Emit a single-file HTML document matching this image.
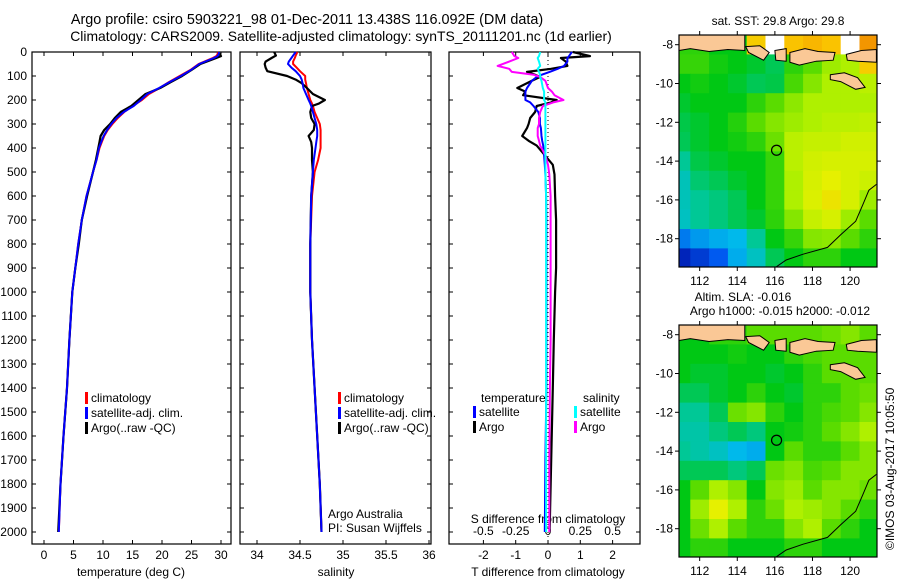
<!DOCTYPE html>
<html><head><meta charset="utf-8"><style>
body{margin:0;background:#fff}
svg{display:block;font-family:"Liberation Sans",sans-serif}
text{font-size:12px;fill:#000}
</style></head><body>
<svg id="c" width="900" height="580" viewBox="0 0 900 580">
<text x="307" y="24" text-anchor="middle" style="font-size:14.4px">Argo profile: csiro 5903221_98 01-Dec-2011 13.438S 116.092E (DM data)</text>
<text x="341" y="41" text-anchor="middle" style="font-size:13.9px">Climatology: CARS2009. Satellite-adjusted climatology: synTS_20111201.nc (1d earlier)</text>
<text x="778" y="25" text-anchor="middle">sat. SST: 29.8 Argo: 29.8</text>
<text x="743" y="301" text-anchor="middle">Altim. SLA: -0.016</text>
<text x="780" y="315" text-anchor="middle">Argo h1000: -0.015 h2000: -0.012</text>
<text transform="translate(894,550) rotate(-90)">©IMOS 03-Aug-2017 10:05:50</text>
<g id="g"></g>
</svg>
<script>
// ---- depth profiles data ----
const tDepth=[0,10,17,25,50,75,100,125,150,175,200,225,250,275,300,325,350,375,400,450,500,600,700,800,900,1000,1200,1400,1600,1800,2000];
const tArgo=[29.6,29.8,30.0,29.2,26.5,25.0,23.4,21.5,19.7,17.2,16.0,14.8,13.0,12.0,11.2,10.2,9.6,9.4,9.2,8.8,8.3,7.3,6.4,5.9,5.3,4.8,4.3,3.9,3.3,2.8,2.4];
const tClim=[29.5,29.4,29.2,28.6,26.2,24.8,23.0,21.2,19.6,17.8,16.6,15.0,13.6,12.5,11.6,10.8,10.2,9.8,9.4,8.9,8.3,7.2,6.4,5.8,5.3,4.8,4.3,3.9,3.3,2.8,2.5];
const tSat=[29.7,29.6,29.4,28.8,26.3,24.9,23.2,21.3,19.5,17.5,16.4,15.2,13.5,12.3,11.4,10.7,10.1,9.7,9.3,8.9,8.3,7.2,6.4,5.8,5.3,4.8,4.3,3.9,3.3,2.8,2.5];
const sDepth=[0,15,25,40,50,65,80,100,115,130,150,175,200,215,225,250,275,300,325,350,375,400,450,500,600,800,1000,1200,1400,1600,1800,2000];
const sArgo=[34.2,34.22,34.17,34.1,34.09,34.1,34.12,34.35,34.45,34.52,34.58,34.65,34.79,34.72,34.64,34.62,34.63,34.67,34.66,34.6,34.63,34.64,34.64,34.65,34.63,34.62,34.62,34.64,34.67,34.7,34.73,34.75];
const sClim=[34.47,34.45,34.44,34.42,34.42,34.46,34.5,34.56,34.56,34.57,34.58,34.6,34.62,34.64,34.65,34.67,34.7,34.73,34.74,34.74,34.74,34.74,34.71,34.67,34.64,34.62,34.62,34.64,34.67,34.7,34.73,34.75];
const sSat=[34.45,34.42,34.4,34.37,34.36,34.4,34.45,34.5,34.52,34.53,34.54,34.57,34.6,34.62,34.63,34.65,34.67,34.69,34.7,34.7,34.69,34.68,34.66,34.65,34.63,34.62,34.62,34.64,34.67,34.7,34.73,34.75];
const dDepth=[0,17,25,40,58,70,83,95,104,120,150,165,180,200,210,225,250,275,300,317,350,370,390,430,470,510,600,700,800,900,1000,1200,1400,1700,2000];
const dTArgo=[0.77,1.3,0.4,0.55,0.6,0.1,-0.65,-0.4,-0.25,-0.5,-0.95,-0.7,-0.77,0.27,0.1,-0.35,-0.4,-0.55,-0.6,-0.65,-0.8,-0.6,-0.35,-0.1,0.15,0.2,0.22,0.25,0.25,0.25,0.22,0.18,0.15,0.1,0.05];
const dTSat=[0.74,0.65,0.6,0.6,0.5,0.3,0.05,-0.2,-0.35,-0.5,-0.65,-0.7,-0.7,-0.7,-0.55,-0.45,-0.3,-0.25,-0.25,-0.22,-0.2,-0.18,-0.15,-0.12,-0.1,-0.08,-0.06,-0.05,-0.05,-0.05,-0.05,-0.05,-0.05,-0.08,-0.1];
const dSArgo=[-0.28,-0.26,-0.23,-0.3,-0.39,-0.3,-0.28,-0.11,-0.06,-0.02,0,0.03,0.05,0.12,0.04,-0.04,-0.06,-0.07,-0.07,-0.08,-0.08,-0.07,-0.06,-0.02,0,0.01,0.02,0.02,0.02,0.02,0.02,0.02,0.015,0.01,0.01];
const dSSat=[-0.06,-0.07,-0.08,-0.07,-0.06,-0.08,-0.07,-0.06,-0.06,-0.05,-0.04,-0.03,-0.03,-0.03,-0.02,-0.02,-0.02,-0.02,-0.02,-0.02,-0.02,-0.02,-0.02,-0.02,-0.02,-0.02,-0.015,-0.015,-0.015,-0.015,-0.015,-0.015,-0.015,-0.015,-0.015];
const depthTicks=[0,100,200,300,400,500,600,700,800,900,1000,1100,1200,1300,1400,1500,1600,1700,1800,1900,2000];
const tTicks=[0,5,10,15,20,25,30];
const sTicks=[34,34.5,35,35.5,36];
const dTTicks=[-2,-1,0,1,2];
const dSTicks=[-0.5,-0.25,0,0.25,0.5];
// ---- map data (rows lat -8..-19, cols lon 111..121), null = white ----
const mapLons=[111,112,113,114,115,116,117,118,119,120,121];
const mapLats=[-8,-9,-10,-11,-12,-13,-14,-15,-16,-17,-18,-19];
const sst=[
[0.55,0.55,0.5,0.5,0.88,null,0.9,0.92,0.9,null,0.97],
[0.56,0.56,0.52,0.5,0.48,0.45,0.55,0.6,0.68,0.7,0.88],
[0.5,0.52,0.5,0.48,0.45,0.46,0.58,0.65,0.7,0.7,0.72],
[0.48,0.5,0.5,0.5,0.55,0.6,0.66,0.7,0.7,0.7,0.7],
[0.46,0.48,0.5,0.54,0.6,0.65,0.68,0.7,0.72,0.72,0.73],
[0.45,0.48,0.5,0.52,0.55,0.62,0.72,0.74,0.74,0.76,0.76],
[0.4,0.46,0.48,0.5,0.5,0.56,0.72,0.76,0.77,0.77,0.77],
[0.36,0.43,0.45,0.48,0.5,0.56,0.7,0.77,0.8,0.77,0.75],
[0.36,0.4,0.42,0.45,0.5,0.56,0.7,0.78,0.83,0.77,0.68],
[0.35,0.4,0.42,0.45,0.48,0.55,0.65,0.74,0.77,0.68,0.6],
[0.2,0.25,0.28,0.3,0.4,0.5,0.56,0.65,0.66,0.6,0.55],
[0.06,0.1,0.15,0.28,0.35,0.45,0.5,0.55,0.55,0.5,0.5]];
const sla=[
[0.5,0.5,0.55,0.55,0.6,0.6,0.6,0.6,0.62,0.65,0.6],
[0.5,0.5,0.5,0.52,0.5,0.5,0.55,0.58,0.6,0.6,0.6],
[0.5,0.48,0.48,0.5,0.5,0.48,0.5,0.55,0.6,0.6,0.6],
[0.45,0.45,0.48,0.5,0.55,0.5,0.48,0.55,0.55,0.6,0.62],
[0.4,0.4,0.45,0.62,0.65,0.55,0.5,0.55,0.58,0.6,0.65],
[0.38,0.38,0.42,0.45,0.42,0.5,0.52,0.55,0.6,0.65,0.7],
[0.4,0.38,0.35,0.3,0.28,0.5,0.6,0.55,0.55,0.6,0.65],
[0.45,0.45,0.45,0.42,0.45,0.62,0.65,0.58,0.6,0.65,0.65],
[0.5,0.6,0.7,0.65,0.5,0.65,0.68,0.6,0.65,0.65,0.62],
[0.5,0.68,0.8,0.7,0.55,0.62,0.7,0.68,0.65,0.6,0.55],
[0.5,0.62,0.7,0.6,0.55,0.55,0.65,0.7,0.6,0.55,0.5],
[0.5,0.55,0.55,0.5,0.5,0.5,0.55,0.55,0.5,0.5,0.5]];
const lonTicks=[112,114,116,118,120];
const latTicks=[-8,-10,-12,-14,-16,-18];
const argoPos=[116.09,-13.44];
const coastAus=[[116.0,-19.5],[116.6,-19.1],[117.5,-18.8],[118.8,-18.45],[119.5,-17.8],[120.3,-17.1],[120.7,-16.2],[121.0,-15.5],[121.4,-15.2]];
const islands=[
[[110.9,-7.5],[114.4,-7.5],[114.4,-8.3],[113.5,-8.25],[112.5,-8.35],[111.5,-8.2],[110.9,-8.3]],
[[114.45,-8.1],[115.2,-8.05],[115.7,-8.4],[115.4,-8.8],[114.6,-8.4]],
[[116.0,-8.3],[116.6,-8.2],[116.6,-8.85],[116.05,-8.8]],
[[116.8,-8.4],[117.6,-8.2],[118.3,-8.35],[119.2,-8.4],[119.1,-8.8],[118.2,-8.85],[117.3,-9.05],[116.8,-8.9]],
[[119.8,-8.5],[120.6,-8.3],[121.4,-8.25],[121.4,-8.9],[120.4,-8.85],[119.85,-8.8]],
[[118.95,-9.55],[119.7,-9.45],[120.4,-9.7],[120.8,-10.2],[120.3,-10.3],[119.5,-9.9],[118.95,-9.8]]];

const NS='http://www.w3.org/2000/svg';
const G=document.getElementById('g');
function mk(tag,attrs,parent){const e=document.createElementNS(NS,tag);for(const k in attrs)e.setAttribute(k,attrs[k]);(parent||G).appendChild(e);return e;}
function txt(x,y,s,anchor,parent){const e=mk('text',{x:x,y:y,'text-anchor':anchor||'start'},parent);e.textContent=s;return e;}
const Y0=52,Y1=544;
const yD=d=>Y0+d*0.24;
function panel(x0,x1,xs,ticks,name){
  const g=mk('g',{});
  
  
  mk('rect',{x:x0,y:Y0,width:x1-x0,height:Y1-Y0,fill:'none',stroke:'#000','stroke-width':1.2},g);
  depthTicks.forEach(d=>{mk('line',{x1:x0,x2:x0+4,y1:yD(d),y2:yD(d),stroke:'#000'},g);mk('line',{x1:x1-4,x2:x1,y1:yD(d),y2:yD(d),stroke:'#000'},g);});
  ticks.forEach(v=>{const x=xs(v);mk('line',{x1:x,x2:x,y1:Y1,y2:Y1-4,stroke:'#000'},g);mk('line',{x1:x,x2:x,y1:Y0,y2:Y0+4,stroke:'#000'},g);});
  return g;
}
function line(xs,vals,depths,color,g,w,name){
  const p=mk('polyline',{points:vals.map((v,i)=>xs(v).toFixed(1)+','+yD(depths[i]).toFixed(1)).join(' '),fill:'none',stroke:color,'stroke-width':w||2,'stroke-linejoin':'round'},g);
  
  
}
function legend(x,y,color,label,g){
  mk('rect',{x:x,y:y-10,width:3,height:12,fill:color},g);
  const t=txt(x+6,y,label,'start',g);
  
  
}
// Panel 1 temperature
const xT=v=>44+v*5.9;
const p1=panel(32,231,xT,tTicks,'temperature-panel');
depthTicks.forEach(d=>txt(27,yD(d)+4,String(d),'end',p1));
tTicks.forEach(v=>txt(xT(v),559,String(v),'middle',p1));
txt(131,576,'temperature (deg C)','middle',p1);
line(xT,tClim,tDepth,'#f00',p1,2,'temp-climatology-line');
line(xT,tArgo,tDepth,'#000',p1,2.2,'temp-argo-line');
line(xT,tSat,tDepth,'#00f',p1,2,'temp-satellite-line');
legend(85,402,'#f00','climatology',p1);legend(85,417,'#00f','satellite-adj. clim.',p1);legend(85,432,'#000','Argo(..raw -QC)',p1);
// Panel 2 salinity
const xS=v=>257+(v-34)*86;
const p2=panel(240,431,xS,sTicks,'salinity-panel');
sTicks.forEach(v=>txt(xS(v),559,String(v),'middle',p2));
txt(336,576,'salinity','middle',p2);
line(xS,sClim,sDepth,'#f00',p2,2,'sal-climatology-line');
line(xS,sArgo,sDepth,'#000',p2,2.2,'sal-argo-line');
line(xS,sSat,sDepth,'#00f',p2,2,'sal-satellite-line');
legend(338,402,'#f00','climatology',p2);legend(338,417,'#00f','satellite-adj. clim.',p2);legend(338,432,'#000','Argo(..raw -QC)',p2);
txt(328,518,'Argo Australia','start',p2);txt(328,532,'PI: Susan Wijffels','start',p2);
// Panel 3 differences
const xDT=v=>548+v*32.3;
const xDS=v=>548+v*129.2;
const p3=panel(449,640,xDT,dTTicks,'difference-panel');
mk('line',{x1:548,x2:548,y1:Y0,y2:Y1,stroke:'#000','stroke-dasharray':'1,3'},p3);
dTTicks.forEach(v=>txt(xDT(v),559,String(v),'middle',p3));
txt(548,576,'T difference from climatology','middle',p3);
dSTicks.forEach(v=>txt(xDS(v),535,String(v),'middle',p3));
txt(548,523,'S difference from climatology','middle',p3);
line(xDT,dTArgo,dDepth,'#000',p3,2.2,'tdiff-argo-line');
line(xDT,dTSat,dDepth,'#00f',p3,2,'tdiff-satellite-line');
line(xDS,dSArgo,dDepth,'#f0f',p3,2,'sdiff-argo-line');
line(xDS,dSSat,dDepth,'#0ff',p3,2,'sdiff-satellite-line');
txt(481,402,'temperature','start',p3);txt(583,402,'salinity','start',p3);
legend(473,416,'#00f','satellite',p3);legend(473,431,'#000','Argo',p3);
legend(574,416,'#0ff','satellite',p3);legend(574,431,'#f0f','Argo',p3);
// colormap
const stops=[[0,[0,0,150]],[0.15,[0,90,240]],[0.3,[0,185,235]],[0.4,[0,200,150]],[0.5,[0,200,20]],[0.6,[90,220,0]],[0.7,[175,240,0]],[0.8,[230,240,0]],[0.9,[250,195,0]],[1,[240,130,0]]];
function cmap(v){if(v===null)return '#fff';for(let i=1;i<stops.length;i++){if(v<=stops[i][0]){const a=stops[i-1],b=stops[i],t=(v-a[0])/(b[0]-a[0]);const c=a[1].map((x,k)=>Math.round(x+(b[1][k]-x)*t));return 'rgb('+c.join(',')+')';}}return 'rgb(240,130,0)';}
function mapPanel(top,vals,name){
  const L=679,R=877,B=top+232;
  const xl=lon=>L+(lon-110.9)*18.8;
  const yl=lat=>top+(-7.5-lat)*19.4;
  const g=mk('g',{});
  
  
  const cid='clip'+top;
  const cp=mk('clipPath',{id:cid},g);mk('rect',{x:L,y:top,width:R-L,height:B-top},cp);
  const cg=mk('g',{'clip-path':'url(#'+cid+')'},g);
  vals.forEach((row,i)=>row.forEach((v,j)=>{
    const r=mk('rect',{x:xl(mapLons[j]-0.5).toFixed(1),y:yl(mapLats[i]+0.5).toFixed(1),width:19.3,height:19.9,fill:cmap(v)},cg);
    
    
  }));
  islands.forEach(poly=>{const p=mk('polygon',{points:poly.map(q=>xl(q[0]).toFixed(1)+','+yl(q[1]).toFixed(1)).join(' '),fill:'#fac896',stroke:'#000','stroke-width':1},cg);});
  mk('polyline',{points:coastAus.map(q=>xl(q[0]).toFixed(1)+','+yl(q[1]).toFixed(1)).join(' '),fill:'none',stroke:'#000','stroke-width':1},cg);
  const c=mk('circle',{cx:xl(argoPos[0]),cy:yl(argoPos[1]),r:5,fill:'none',stroke:'#000','stroke-width':1.2},g);
  
  
  mk('rect',{x:L,y:top,width:R-L,height:B-top,fill:'none',stroke:'#000','stroke-width':1.2},g);
  lonTicks.forEach(v=>{const x=xl(v);mk('line',{x1:x,x2:x,y1:top,y2:top-4,stroke:'#000'},g);mk('line',{x1:x,x2:x,y1:B,y2:B+4,stroke:'#000'},g);txt(x,B+18,String(v),'middle',g);});
  latTicks.forEach(v=>{const y=yl(v);mk('line',{x1:L,x2:L-4,y1:y,y2:y,stroke:'#000'},g);mk('line',{x1:R,x2:R+4,y1:y,y2:y,stroke:'#000'},g);txt(L-6,y+4,String(v),'end',g);});
}
mapPanel(35,sst,'sst-map');
mapPanel(325,sla,'sla-map');
</script>
</body></html>
